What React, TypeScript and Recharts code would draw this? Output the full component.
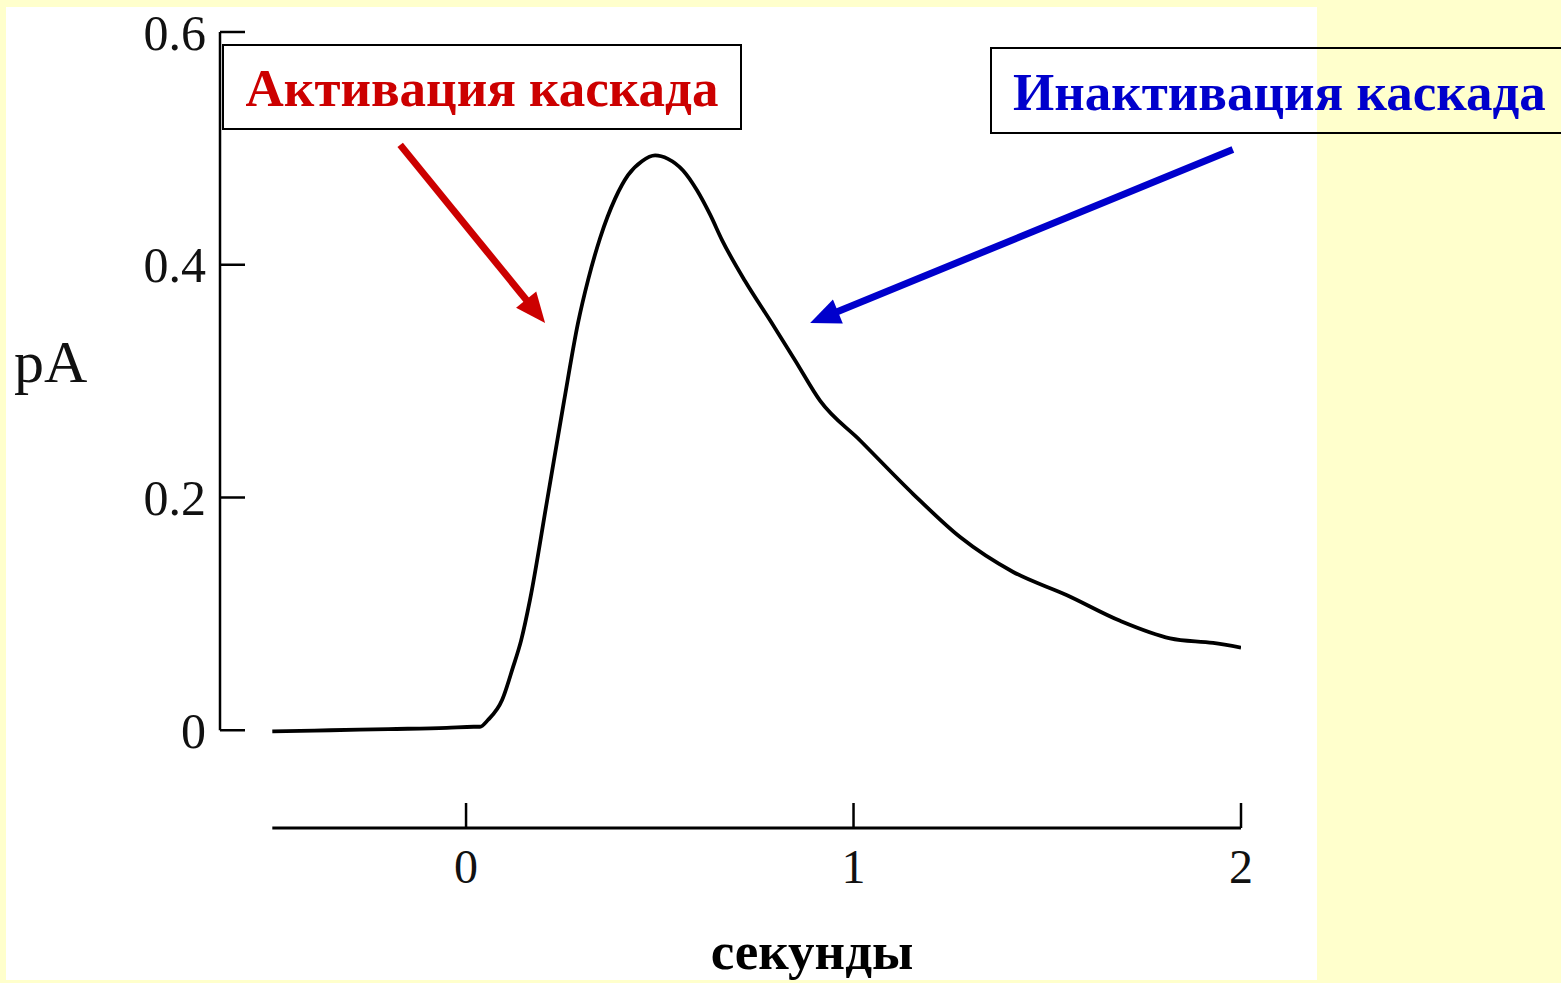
import { LineChart, Line, XAxis, YAxis, ReferenceLine } from "recharts";

// photocurrent trace: time in s, current in pA
const TIME = [
  -0.5, -0.35, -0.2, -0.05, 0.02, 0.036, 0.057, 0.093, 0.121, 0.142, 0.165,
  0.209, 0.253, 0.289, 0.315, 0.346, 0.385, 0.418, 0.454, 0.488, 0.521, 0.56,
  0.596, 0.63, 0.661, 0.72, 0.785, 0.849, 0.914, 1.017, 1.154, 1.275, 1.412,
  1.551, 1.688, 1.817, 1.928, 2.0,
];
const CURRENT = [
  -0.001, 0.0, 0.001, 0.002, 0.003, 0.003, 0.009, 0.026, 0.054, 0.077, 0.112,
  0.197, 0.283, 0.35, 0.387, 0.423, 0.457, 0.477, 0.489, 0.494, 0.491, 0.481,
  0.464, 0.443, 0.421, 0.386, 0.352, 0.318, 0.283, 0.249, 0.203, 0.166, 0.136,
  0.116, 0.094, 0.079, 0.075, 0.071,
];

const X_TICKS = [0, 1, 2];
const X_TICK_LABELS = ["0", "1", "2"];
const Y_TICKS = [0, 0.2, 0.4, 0.6];
const Y_TICK_LABELS = ["0", "0.2", "0.4", "0.6"];

// arrows pointing at the rising and falling phase (data coordinates)
const ACTIVATION_ARROW = [
  { x: -0.17, y: 0.503 },
  { x: 0.204, y: 0.35 },
];
const INACTIVATION_ARROW = [
  { x: 1.979, y: 0.499 },
  { x: 0.888, y: 0.35 },
];

const X_MIN = -0.635;
const X_START = -0.5;
const Y_MIN = -0.084;

const WIDTH = 1561;
const HEIGHT = 983;
const SERIF = '"Liberation Serif", "Times New Roman", serif';
const RED = "#CC0000";
const BLUE = "#0000CC";
const BG = "#FFFFCC";

const data = TIME.map((t, i) => ({ t, value: CURRENT[i] }));

function XTick({ x, y, payload }: any) {
  const label = X_TICK_LABELS[X_TICKS.indexOf(payload.value)];
  return (
    <g>
      <line x1={x} y1={y} x2={x} y2={y - 25} stroke="#000" strokeWidth={2.5} />
      <text x={x} y={y + 55} textAnchor="middle" fontSize={48} fontFamily={SERIF} fill="#111">
        {label}
      </text>
    </g>
  );
}

function YTick({ x, y, payload }: any) {
  const label = Y_TICK_LABELS[Y_TICKS.indexOf(payload.value)];
  return (
    <g>
      <line x1={x} y1={y} x2={x + 25} y2={y} stroke="#000" strokeWidth={2.5} />
      <text x={x - 14} y={y} dy="0.35em" textAnchor="end" fontSize={50} fontFamily={SERIF} fill="#111">
        {label}
      </text>
    </g>
  );
}

function arrowShape(color: string) {
  return (props: any) => {
    const { x1, y1, x2, y2 } = props;
    const dx = x2 - x1;
    const dy = y2 - y1;
    const len = Math.hypot(dx, dy) || 1;
    const ux = dx / len;
    const uy = dy / len;
    const head = 30;
    const half = 13;
    const bx = x2 - ux * head;
    const by = y2 - uy * head;
    return (
      <g>
        <line x1={x1} y1={y1} x2={bx + ux * 2} y2={by + uy * 2} stroke={color} strokeWidth={7} />
        <polygon
          points={`${x2},${y2} ${bx - uy * half},${by + ux * half} ${bx + uy * half},${by - ux * half}`}
          fill={color}
        />
      </g>
    );
  };
}

export default function App() {
  return (
    <div
      style={{
        position: "absolute",
        left: 0,
        top: 0,
        width: WIDTH,
        height: HEIGHT,
        overflow: "hidden",
        background: BG,
        fontFamily: SERIF,
      }}
    >
      <div style={{ position: "absolute", left: 6, top: 7, width: 1311, height: 973, background: "#fff" }} />

      <div style={{ position: "absolute", left: 0, top: 0 }}>
        <LineChart width={WIDTH} height={HEIGHT} data={data} margin={{ top: 32, right: 320, bottom: 0, left: 0 }}>
          <XAxis
            dataKey="t"
            type="number"
            domain={[X_MIN, 2]}
            allowDataOverflow
            ticks={X_TICKS}
            interval={0}
            height={155}
            axisLine={false}
            tickLine={false}
            tickSize={0}
            tickMargin={0}
            tick={<XTick />}
          />
          <YAxis
            type="number"
            domain={[Y_MIN, 0.6]}
            allowDataOverflow
            ticks={Y_TICKS}
            interval={0}
            width={220}
            axisLine={false}
            tickLine={false}
            tickSize={0}
            tickMargin={0}
            tick={<YTick />}
          />
          <ReferenceLine
            segment={[{ x: X_MIN, y: 0 }, { x: X_MIN, y: 0.6 }]}
            stroke="#000"
            strokeWidth={2.5}
            ifOverflow="visible"
          />
          <ReferenceLine
            segment={[{ x: X_START, y: Y_MIN }, { x: 2, y: Y_MIN }]}
            stroke="#000"
            strokeWidth={3}
            ifOverflow="visible"
          />
          <Line
            type="monotone"
            dataKey="value"
            stroke="#000"
            strokeWidth={3.8}
            dot={false}
            isAnimationActive={false}
          />
          <ReferenceLine segment={ACTIVATION_ARROW} ifOverflow="visible" shape={arrowShape(RED)} />
          <ReferenceLine segment={INACTIVATION_ARROW} ifOverflow="visible" shape={arrowShape(BLUE)} />
        </LineChart>
      </div>

      <div
        style={{
          position: "absolute",
          left: 14,
          top: 382 - 0.8375 * 60,
          fontSize: 60,
          lineHeight: 1,
          color: "#111",
        }}
      >
        pA
      </div>

      <div
        style={{
          position: "absolute",
          left: 612,
          width: 400,
          textAlign: "center",
          top: 969 - 0.8375 * 53,
          fontSize: 53,
          lineHeight: 1,
          fontWeight: "bold",
          color: "#000",
        }}
      >
        секунды
      </div>

      <div
        style={{
          position: "absolute",
          left: 222,
          top: 44,
          width: 516,
          height: 82,
          border: "2px solid #000",
        }}
      >
        <div
          style={{
            position: "absolute",
            left: 0,
            right: 0,
            top: 60 - 0.8375 * 53,
            textAlign: "center",
            fontSize: 53,
            lineHeight: 1,
            fontWeight: "bold",
            color: RED,
            whiteSpace: "nowrap",
          }}
        >
          Активация каскада
        </div>
      </div>

      <div
        style={{
          position: "absolute",
          left: 990,
          top: 47,
          width: 700,
          height: 83,
          border: "2px solid #000",
        }}
      >
        <div
          style={{
            position: "absolute",
            left: 21,
            top: 61 - 0.8375 * 53,
            fontSize: 53,
            lineHeight: 1,
            fontWeight: "bold",
            color: BLUE,
            whiteSpace: "nowrap",
          }}
        >
          Инактивация каскада
        </div>
      </div>
    </div>
  );
}
